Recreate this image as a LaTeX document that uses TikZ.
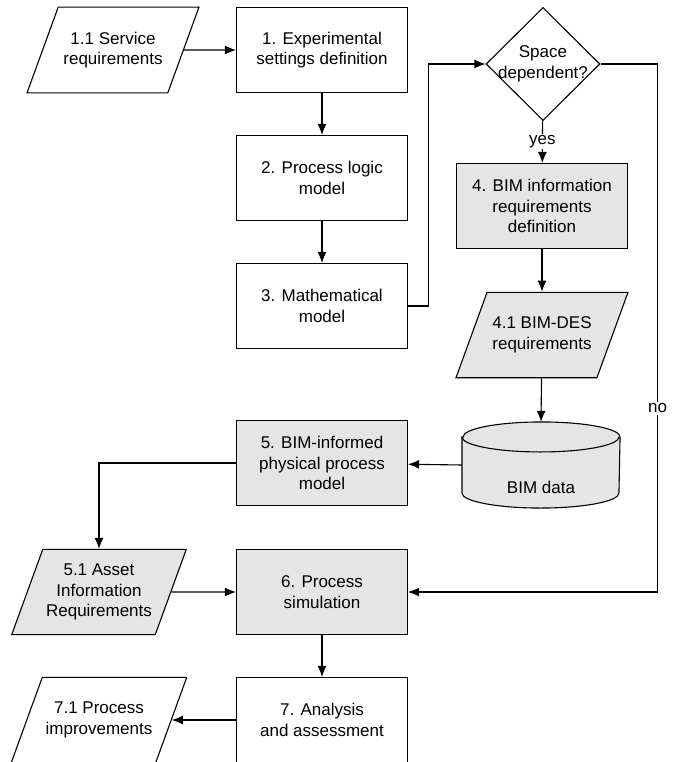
\documentclass[tikz,border=0pt]{standalone}
\usepackage{fontspec}
\setmainfont{Liberation Sans}
\usetikzlibrary{shapes.geometric,scopes,arrows.meta}
\tikzset{
  >={Latex[length=11pt, width=9pt]},
  bx/.style={rectangle, draw, minimum width=171pt, minimum height=85pt, align=center},
  gbx/.style={bx, fill=gray!20},
  io/.style={trapezium, trapezium left angle=70, trapezium right angle=110, trapezium stretches body, draw, minimum width=172pt, inner ysep=#1, align=center},
  io/.default=24.75pt,
  gio/.style={io=#1, fill=gray!20},
  gio/.default=24.75pt,
  dc/.style={diamond, draw, minimum width=114pt, minimum height=113pt, inner sep=-4pt, align=center},
  db/.style={rectangle, minimum width=157pt, minimum height=85pt, align=center}
}

\begin{document}
\begin{tikzpicture}[x=1pt, y=1pt, line width=1.1pt, every node/.style={font=\fontsize{17}{20.5}\selectfont}]
  \useasboundingbox (0,0) rectangle (678,-762);
  \node[io] (sr) at (113,-50) {1.1 Service\\requirements};
  \node[bx] (esd) at (322,-50) {1. Experimental\\settings definition};
  \node[bx] (plm) at (322,-178) {2. Process logic\\model};
  \node[bx] (mm) at (322,-306) {3. Mathematical\\model};
  \node[dc] (sp) at (543,-64) {Space\\dependent?};
  \node[gbx] (bir) at (542,-206) {4. BIM information\\requirements\\definition};
  \node[gio] (bdr) at (542,-335) {4.1 BIM-DES\\requirements};
  % cylinder for the BIM data
  \node[db] (bd) at (541,-465) {};
  \draw[fill=gray!20] ([yshift=-15]bd.north west) -- ([yshift=15]bd.south west)
    arc[start angle=180, end angle=360, x radius=78.5, y radius=15]
    -- ([yshift=-15]bd.north east)
    arc[start angle=0, end angle=180, x radius=78.5, y radius=15] -- cycle;
  \draw ([yshift=-15]bd.north west) arc[start angle=180, end angle=360, x radius=78.5, y radius=15];
  \node (bdt) at ([yshift=-22]bd.center) {BIM data};
  \node[gbx] (bpm) at (322,-463) {5. BIM-informed\\physical process\\model};
  \node[gio=14.5pt] (air) at (99,-592) {5.1 Asset\\Information\\Requirements};
  \node[gbx] (ps) at (322,-592) {6. Process\\simulation};
  \node[bx] (aa) at (322,-720) {7. Analysis\\and assessment};
  \node[io] (pi) at (99,-720) {7.1 Process\\improvements};

  {[->]
  \draw (sr) -- (esd);
  \draw (esd) -- (plm);
  \draw (plm) -- (mm);
  \draw (mm.east) -- ++(20,0) |- (sp.west);
  \draw (sp) -- node[fill=white, inner sep=1pt] {yes} (bir);
  \draw (bir) -- (bdr);
  \draw (bdr) -- (bd.north);
  \draw (bd.west) -- (bpm);
  \draw (bpm) -| (air);
  \draw (air) -- (ps);
  \draw (sp.east) -- ++(57,0) |- node[pos=0.326, fill=white, inner sep=2pt] {no} (ps.east);
  \draw (ps) -- (aa);
  \draw (aa) -- (pi);
  }
\end{tikzpicture}
\end{document}
